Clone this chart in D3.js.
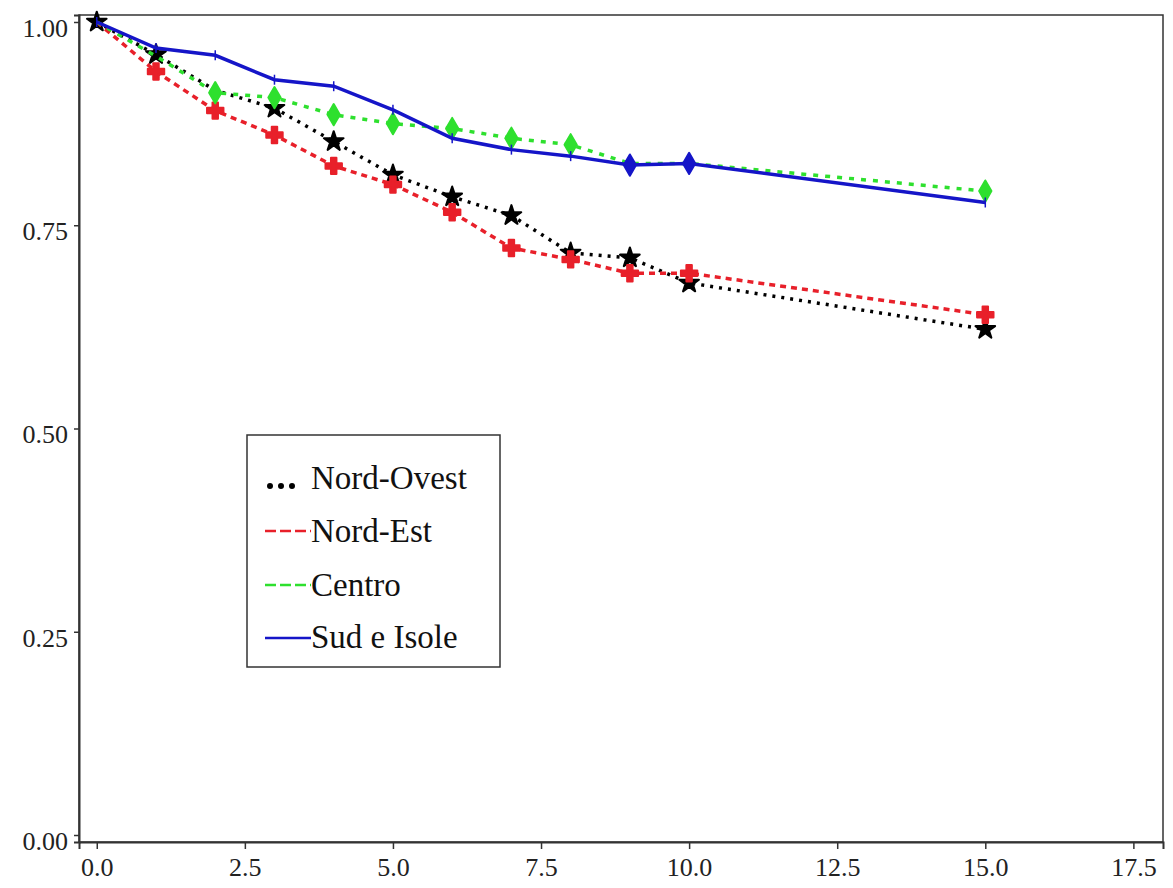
<!DOCTYPE html>
<html>
<head>
<meta charset="utf-8">
<script src="https://cdn.jsdelivr.net/npm/d3@7"></script>
<style>
  body { margin: 0; background: #fff; }
  svg { display: block; }
</style>
</head>
<body>
<svg id="chart" width="1173" height="888"></svg>
<script>
// time points (years) and survival values
const times = [0, 1, 2, 3, 4, 5, 6, 7, 8, 9, 10, 15];
const nordOvest = [1.0, 0.960, 0.916, 0.894, 0.853, 0.812, 0.785, 0.762, 0.716, 0.710, 0.679, 0.622];
const nordEst   = [1.0, 0.939, 0.891, 0.861, 0.823, 0.800, 0.766, 0.722, 0.708, 0.691, 0.691, 0.640];
const centro    = [1.0, 0.958, 0.913, 0.907, 0.886, 0.875, 0.869, 0.857, 0.849, 0.826, 0.826, 0.792];
const sudIsole  = [1.0, 0.968, 0.959, 0.929, 0.921, 0.892, 0.857, 0.843, 0.835, 0.824, 0.826, 0.778];

const xTicks = [0, 2.5, 5, 7.5, 10, 12.5, 15, 17.5];
const yTicks = [0, 0.25, 0.5, 0.75, 1.0];
const labels = ["Nord-Ovest", "Nord-Est", "Centro", "Sud e Isole"];

const plot = { left: 79, right: 1163, top: 15, bottom: 842 };

const x = d3.scaleLinear().domain([-0.3, 18.0]).range([plot.left, plot.right]);
const y = d3.scaleLinear().domain([-0.0086, 1.0086]).range([plot.bottom, plot.top]);

const svg = d3.select("#chart");
const serif = "'Liberation Serif', 'Times New Roman', serif";

// frame
svg.append("rect")
  .attr("x", plot.left).attr("y", plot.top)
  .attr("width", plot.right - plot.left).attr("height", plot.bottom - plot.top)
  .attr("fill", "none").attr("stroke", "#333").attr("stroke-width", 1.5);

const xAxis = svg.append("g")
  .attr("transform", "translate(0," + plot.bottom + ")")
  .call(d3.axisBottom(x).tickValues(xTicks).tickFormat(d3.format(".1f")).tickSize(7).tickPadding(9));
const yAxis = svg.append("g")
  .attr("transform", "translate(" + plot.left + ",0)")
  .call(d3.axisLeft(y).tickValues(yTicks).tickFormat(d3.format(".2f")).tickSize(5).tickPadding(6));

[xAxis, yAxis].forEach(g => {
  g.select(".domain").attr("stroke", "#333").attr("stroke-width", 2);
  g.selectAll(".tick line").attr("stroke", "#333").attr("stroke-width", 1.5);
  g.selectAll("text").attr("font-family", serif).attr("font-size", 26).attr("fill", "#222");
});
yAxis.selectAll("text").attr("dy", "0.55em");

const line = d3.line().x((d, i) => x(times[i])).y(d => y(d));

// which time points carry a visible marker
const series = [
  { vals: nordOvest, color: "#000", dash: "3,6", width: 3.5, sym: d3.symbolStar, size: 120, marks: [0, 1, 3, 4, 5, 6, 7, 8, 9, 10, 15] },
  { vals: nordEst, color: "#e8202a", dash: "6,5", width: 3.5, sym: d3.symbolCross, size: 150, marks: [1, 2, 3, 4, 5, 6, 7, 8, 9, 10, 15] },
  { vals: centro, color: "#2ee02e", dash: "5,7", width: 3.5, sym: d3.symbolDiamond, size: 130, marks: [2, 3, 4, 5, 6, 7, 8, 15] },
  { vals: sudIsole, color: "#1515c8", dash: null, width: 3.5, sym: null, size: 0, marks: [9, 10] }
];

series.forEach(s => {
  svg.append("path")
    .datum(s.vals)
    .attr("fill", "none")
    .attr("stroke", s.color)
    .attr("stroke-width", s.width)
    .attr("stroke-dasharray", s.dash)
    .attr("d", line);

  const pts = s.vals.map((v, i) => [times[i], v]);
  if (!s.sym) {
    // small censor ticks on the solid line
    svg.append("g").selectAll("line")
      .data(pts)
      .join("line")
      .attr("x1", d => x(d[0])).attr("x2", d => x(d[0]))
      .attr("y1", d => y(d[1]) - 5).attr("y2", d => y(d[1]) + 5)
      .attr("stroke", s.color).attr("stroke-width", 1.5);
  }
  svg.append("g").selectAll("path")
    .data(pts.filter(d => s.marks.includes(d[0])))
    .join("path")
    .attr("transform", d => "translate(" + x(d[0]) + "," + y(d[1]) + ")")
    .attr("d", d3.symbol().type(s.sym || d3.symbolDiamond).size(s.size || 130))
    .attr("fill", s.color)
    .attr("stroke", s.color)
    .attr("stroke-width", 2)
    .attr("stroke-linejoin", "round");
});

// legend
const lg = svg.append("g");
lg.append("rect")
  .attr("x", 247).attr("y", 435).attr("width", 253).attr("height", 232)
  .attr("fill", "#fff").attr("stroke", "#333").attr("stroke-width", 1.5);

const legendY = [489, 542, 596, 648];
const legendStyle = [
  { color: "#000", dash: "0,11", width: 6, cap: "round", x1: 270, x2: 300, dy: -3 },
  { color: "#e8202a", dash: "11,4", width: 2.5, cap: "butt", x1: 265, x2: 311, dy: -11 },
  { color: "#2ee02e", dash: "11,4", width: 2.5, cap: "butt", x1: 265, x2: 311, dy: -11 },
  { color: "#1515c8", dash: null, width: 2.5, cap: "butt", x1: 265, x2: 311, dy: -10 }
];

labels.forEach((lab, i) => {
  const st = legendStyle[i];
  lg.append("line")
    .attr("x1", st.x1).attr("x2", st.x2)
    .attr("y1", legendY[i] + st.dy).attr("y2", legendY[i] + st.dy)
    .attr("stroke", st.color).attr("stroke-width", st.width)
    .attr("stroke-linecap", st.cap)
    .attr("stroke-dasharray", st.dash);
  lg.append("text")
    .attr("x", 311).attr("y", legendY[i])
    .attr("font-family", serif).attr("font-size", 33)
    .attr("fill", "#111")
    .text(lab);
});
</script>
</body>
</html>
